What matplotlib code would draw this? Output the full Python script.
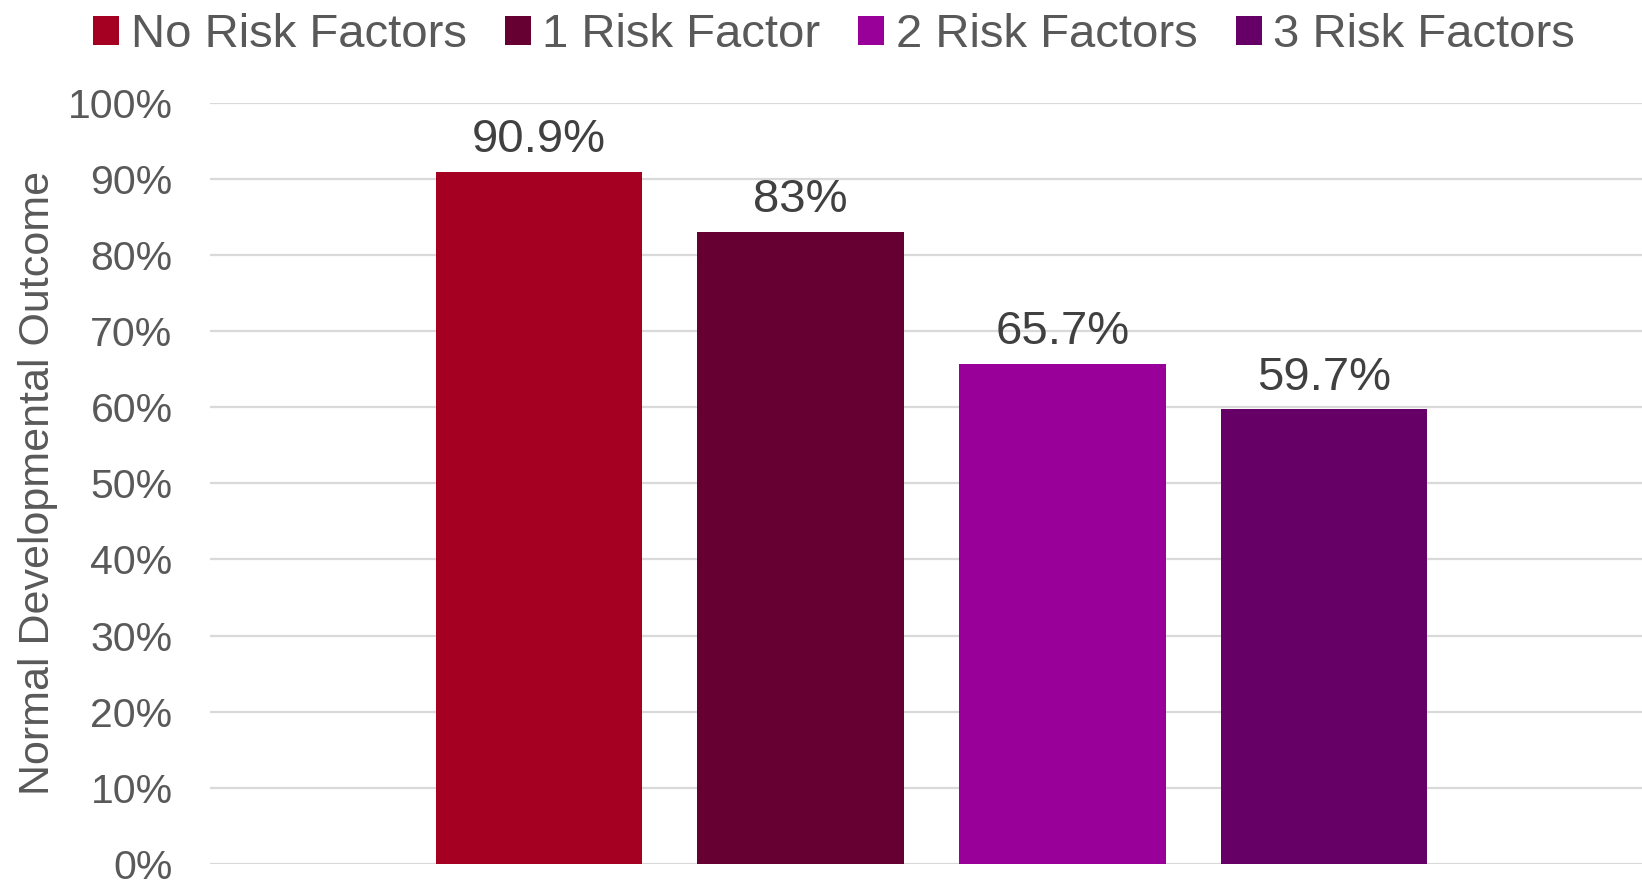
import matplotlib
matplotlib.use('Agg')
import matplotlib.pyplot as plt
import numpy as np
from matplotlib.patches import Patch
from matplotlib.ticker import PercentFormatter

# ── Data ──────────────────────────────────────────────────────
groups  = ['No Risk Factors', '1 Risk Factor', '2 Risk Factors', '3 Risk Factors']
outcome = [90.9, 83, 65.7, 59.7]
labels  = ['90.9%', '83%', '65.7%', '59.7%']
colors  = ['#A50021', '#660033', '#990099', '#660066']

plt.rcParams['font.family'] = ['Liberation Sans', 'DejaVu Sans']
GREY = '#595959'

fig = plt.figure(figsize=(16.42, 8.81), dpi=100)
ax = fig.add_axes([0.1279, 0.0193, 0.8721, 0.8642])

x = np.arange(len(groups))
bars = ax.bar(x, outcome, width=0.79, color=colors, zorder=2)

for bar, txt in zip(bars, labels):
    ax.annotate(txt, (bar.get_x() + bar.get_width()/2, bar.get_height()),
                xytext=(0, 7), textcoords='offset points',
                ha='center', va='bottom', fontsize=34, color='#404040')

ax.set_xlim(-1.257, 4.215)
ax.set_ylim(0, 100)
ax.set_yticks(np.arange(0, 101, 10))
ax.yaxis.set_major_formatter(PercentFormatter(decimals=0))
ax.tick_params(axis='y', length=0, pad=27, labelsize=29.5, labelcolor=GREY)
ax.set_xticks([])
ax.grid(axis='y', color='#D9D9D9', linewidth=1.6, zorder=0)
for s in ax.spines.values():
    s.set_visible(False)

ax.set_ylabel('Normal Developmental Outcome', fontsize=31, color=GREY)
ax.yaxis.set_label_coords(-0.106, 0.5)

handles = [Patch(facecolor=c) for c in colors]
fig.legend(handles, groups, loc='center', bbox_to_anchor=(0.508, 0.96),
           ncol=4, frameon=False, fontsize=34, labelcolor=GREY,
           handlelength=0.55, handleheight=0.55, handletextpad=0.25,
           columnspacing=0.8)

fig.savefig('out.png', dpi=100)
plt.close()
